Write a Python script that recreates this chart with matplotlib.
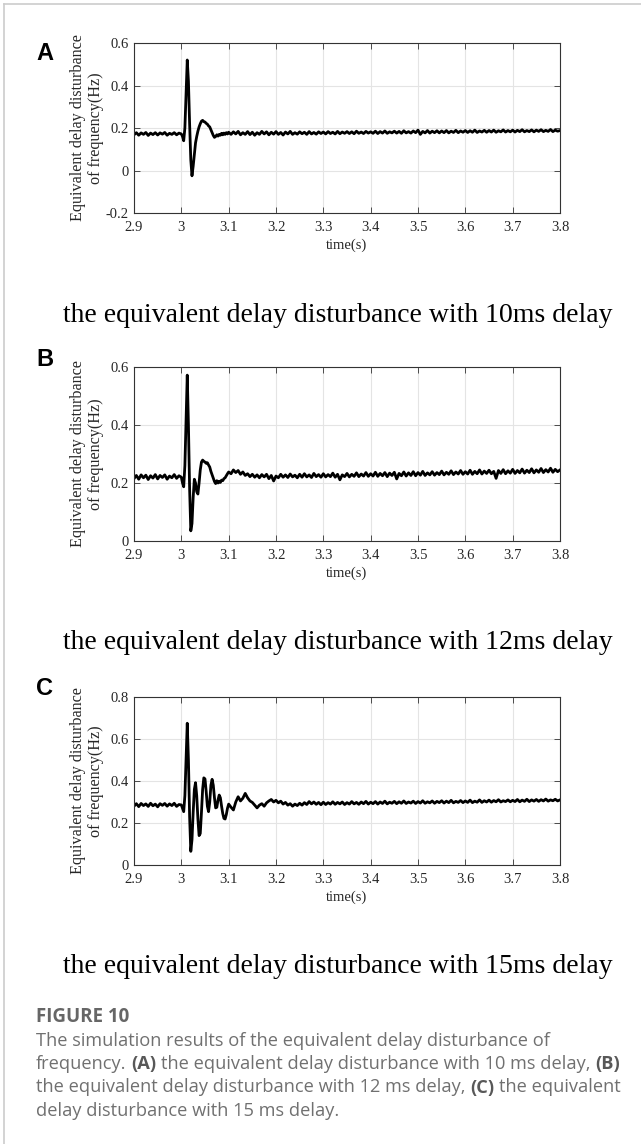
import numpy as np
import matplotlib
matplotlib.use("Agg")
import matplotlib.pyplot as plt
from matplotlib.lines import Line2D

SERIF = ["Liberation Serif", "DejaVu Serif"]
SANS = ["Liberation Sans", "DejaVu Sans"]
CAP = ["Open Sans", "DejaVu Sans"]
plt.rcParams["font.family"] = SERIF

# ---------------- data ----------------
# sampling times (s): pre-event, event (finer), post-event
t_pre = np.linspace(2.900, 2.995, 20)
t_evt = np.linspace(3.000, 3.0975, 40)
t_post = np.linspace(3.100, 3.800, 141)

# (A) 10 ms delay
a_pre = [0.168, 0.178, 0.166, 0.177, 0.170, 0.179, 0.165, 0.176, 0.169, 0.178,
         0.167, 0.177, 0.171, 0.179, 0.166, 0.175, 0.170, 0.178, 0.168, 0.176]
a_evt = [0.172, 0.160, 0.140, 0.200, 0.360, 0.520, 0.420, 0.220, 0.050, -0.025,
         0.020, 0.075, 0.130, 0.160, 0.185, 0.205, 0.220, 0.232, 0.236, 0.230,
         0.228, 0.222, 0.218, 0.210, 0.205, 0.192, 0.180, 0.165, 0.156, 0.160,
         0.168, 0.162, 0.170, 0.166, 0.175, 0.168, 0.176, 0.170, 0.178, 0.172]
a_post = [0.180, 0.170, 0.182, 0.172, 0.184, 0.168, 0.178, 0.170, 0.183, 0.169,
          0.180, 0.166, 0.178, 0.170, 0.184, 0.172, 0.182, 0.168, 0.180, 0.171,
          0.183, 0.170, 0.179, 0.167, 0.181, 0.172, 0.184, 0.170, 0.178, 0.171,
          0.182, 0.173, 0.180, 0.170, 0.183, 0.172, 0.179, 0.171, 0.182, 0.174,
          0.181, 0.172, 0.183, 0.174, 0.180, 0.172, 0.184, 0.173, 0.181, 0.175,
          0.183, 0.174, 0.182, 0.173, 0.185, 0.175, 0.181, 0.174, 0.184, 0.176,
          0.182, 0.175, 0.185, 0.174, 0.183, 0.176, 0.186, 0.175, 0.182, 0.177,
          0.185, 0.176, 0.184, 0.175, 0.187, 0.177, 0.183, 0.176, 0.186, 0.178,
          0.190, 0.170, 0.184, 0.177, 0.188, 0.176, 0.185, 0.178, 0.187, 0.177,
          0.186, 0.178, 0.188, 0.177, 0.185, 0.179, 0.189, 0.178, 0.186, 0.180,
          0.188, 0.179, 0.187, 0.180, 0.190, 0.179, 0.186, 0.181, 0.189, 0.180,
          0.188, 0.181, 0.190, 0.180, 0.187, 0.182, 0.191, 0.181, 0.188, 0.182,
          0.190, 0.181, 0.189, 0.183, 0.192, 0.182, 0.188, 0.183, 0.191, 0.182,
          0.190, 0.184, 0.192, 0.183, 0.189, 0.184, 0.193, 0.183, 0.190, 0.185,
          0.188]

# (B) 12 ms delay
b_pre = [0.215, 0.226, 0.213, 0.228, 0.218, 0.227, 0.212, 0.225, 0.217, 0.229,
         0.214, 0.226, 0.219, 0.228, 0.213, 0.224, 0.218, 0.229, 0.216, 0.225]
b_evt = [0.220, 0.200, 0.187, 0.260, 0.420, 0.572, 0.400, 0.180, 0.035, 0.060,
         0.150, 0.213, 0.200, 0.170, 0.162, 0.200, 0.245, 0.272, 0.279, 0.275,
         0.272, 0.268, 0.270, 0.262, 0.255, 0.240, 0.228, 0.215, 0.205, 0.198,
         0.208, 0.200, 0.206, 0.202, 0.210, 0.208, 0.215, 0.218, 0.225, 0.232]
b_post = [0.238, 0.232, 0.245, 0.236, 0.243, 0.230, 0.238, 0.226, 0.232, 0.222,
          0.230, 0.220, 0.228, 0.218, 0.229, 0.221, 0.230, 0.215, 0.226, 0.207,
          0.224, 0.218, 0.230, 0.220, 0.228, 0.219, 0.231, 0.221, 0.227, 0.218,
          0.230, 0.220, 0.232, 0.221, 0.228, 0.219, 0.233, 0.222, 0.229, 0.220,
          0.232, 0.221, 0.229, 0.222, 0.234, 0.220, 0.230, 0.211, 0.228, 0.222,
          0.233, 0.221, 0.230, 0.223, 0.235, 0.222, 0.231, 0.224, 0.236, 0.223,
          0.232, 0.224, 0.237, 0.223, 0.233, 0.225, 0.236, 0.222, 0.234, 0.226,
          0.237, 0.214, 0.233, 0.225, 0.238, 0.224, 0.235, 0.226, 0.239, 0.225,
          0.236, 0.227, 0.240, 0.226, 0.235, 0.228, 0.239, 0.227, 0.236, 0.229,
          0.241, 0.228, 0.237, 0.230, 0.242, 0.229, 0.238, 0.231, 0.243, 0.230,
          0.239, 0.231, 0.244, 0.230, 0.240, 0.232, 0.245, 0.231, 0.241, 0.233,
          0.244, 0.232, 0.240, 0.216, 0.243, 0.233, 0.246, 0.232, 0.242, 0.234,
          0.247, 0.233, 0.243, 0.235, 0.248, 0.234, 0.244, 0.236, 0.249, 0.235,
          0.245, 0.237, 0.250, 0.236, 0.246, 0.238, 0.251, 0.237, 0.247, 0.239,
          0.245]

# (C) 15 ms delay
c_pre = [0.280, 0.292, 0.278, 0.293, 0.283, 0.291, 0.279, 0.294, 0.282, 0.290,
         0.277, 0.292, 0.284, 0.293, 0.280, 0.291, 0.283, 0.294, 0.279, 0.288]
c_evt = [0.286, 0.270, 0.254, 0.330, 0.500, 0.675, 0.500, 0.230, 0.065, 0.120,
         0.250, 0.360, 0.392, 0.330, 0.220, 0.140, 0.150, 0.250, 0.360, 0.415,
         0.410, 0.350, 0.280, 0.254, 0.300, 0.380, 0.408, 0.380, 0.320, 0.272,
         0.275, 0.310, 0.333, 0.320, 0.280, 0.245, 0.222, 0.219, 0.240, 0.270]
c_post = [0.290, 0.275, 0.262, 0.300, 0.325, 0.305, 0.318, 0.341, 0.320, 0.305,
          0.298, 0.285, 0.272, 0.285, 0.292, 0.280, 0.296, 0.305, 0.312, 0.300,
          0.308, 0.296, 0.304, 0.290, 0.298, 0.285, 0.292, 0.280, 0.290, 0.283,
          0.294, 0.285, 0.297, 0.288, 0.302, 0.291, 0.300, 0.289, 0.298, 0.287,
          0.299, 0.288, 0.297, 0.290, 0.301, 0.289, 0.298, 0.291, 0.300, 0.288,
          0.297, 0.290, 0.302, 0.291, 0.298, 0.289, 0.300, 0.292, 0.303, 0.290,
          0.299, 0.292, 0.302, 0.290, 0.300, 0.293, 0.304, 0.291, 0.299, 0.294,
          0.303, 0.292, 0.301, 0.294, 0.305, 0.293, 0.300, 0.295, 0.304, 0.293,
          0.302, 0.295, 0.306, 0.294, 0.301, 0.296, 0.305, 0.294, 0.303, 0.297,
          0.306, 0.295, 0.304, 0.297, 0.308, 0.296, 0.303, 0.298, 0.307, 0.297,
          0.305, 0.298, 0.309, 0.297, 0.304, 0.299, 0.310, 0.298, 0.306, 0.300,
          0.309, 0.299, 0.307, 0.301, 0.311, 0.300, 0.306, 0.302, 0.310, 0.301,
          0.308, 0.302, 0.312, 0.301, 0.309, 0.303, 0.313, 0.302, 0.310, 0.304,
          0.312, 0.303, 0.311, 0.305, 0.314, 0.304, 0.310, 0.306, 0.313, 0.305,
          0.310]

x_ticks = [2.9, 3.0, 3.1, 3.2, 3.3, 3.4, 3.5, 3.6, 3.7, 3.8]
x_ticklabels = ["2.9", "3", "3.1", "3.2", "3.3", "3.4", "3.5", "3.6", "3.7", "3.8"]
yA_ticks, yA_labels = [-0.2, 0, 0.2, 0.4, 0.6], ["-0.2", "0", "0.2", "0.4", "0.6"]
yB_ticks, yB_labels = [0, 0.2, 0.4, 0.6], ["0", "0.2", "0.4", "0.6"]
yC_ticks, yC_labels = [0, 0.2, 0.4, 0.6, 0.8], ["0", "0.2", "0.4", "0.6", "0.8"]

panel_letters = ["A", "B", "C"]
subtitles = ["the equivalent delay disturbance with 10ms delay",
             "the equivalent delay disturbance with 12ms delay",
             "the equivalent delay disturbance with 15ms delay"]
ylabel_text = "Equivalent delay disturbance\nof frequency(Hz)"
xlabel_text = "time(s)"

# ---------------- figure ----------------
W, H = 641, 1144
fig = plt.figure(figsize=(W / 100, H / 100), dpi=100)
fig.patch.set_facecolor("white")


def px_box(left, top, right, bottom):
    return [left / W, 1 - bottom / H, (right - left) / W, (bottom - top) / H]


panels = [
    dict(box=(134, 43, 560, 213), y=(a_pre, a_evt, a_post), ylim=(-0.2, 0.6),
         yt=yA_ticks, yl=yA_labels, letter_base=60, sub_base=322),
    dict(box=(134, 367, 560, 541), y=(b_pre, b_evt, b_post), ylim=(0, 0.6),
         yt=yB_ticks, yl=yB_labels, letter_base=366, sub_base=649),
    dict(box=(134, 697, 560, 865), y=(c_pre, c_evt, c_post), ylim=(0, 0.8),
         yt=yC_ticks, yl=yC_labels, letter_base=695, sub_base=973),
]

t_all = np.concatenate([t_pre, t_evt, t_post])
TICK_COL = "#262626"

for i, p in enumerate(panels):
    l, t, r, b = p["box"]
    ax = fig.add_axes(px_box(l, t, r, b))
    yv = np.concatenate([np.asarray(v, dtype=float) for v in p["y"]])
    ax.plot(t_all, yv, color="black", lw=2.0)
    ax.set_xlim(2.9, 3.8)
    ax.set_ylim(*p["ylim"])
    ax.grid(True, color="#e4e4e4", lw=0.8)
    ax.set_axisbelow(True)
    ax.tick_params(direction="in", top=True, right=True, length=4, width=0.6,
                   color="#333333", labelsize=10.5, labelcolor=TICK_COL)
    ax.tick_params(axis="x", pad=6)
    ax.tick_params(axis="y", pad=4)
    ax.set_xticks(x_ticks)
    ax.set_xticklabels(x_ticklabels)
    ax.set_yticks(p["yt"])
    ax.set_yticklabels(p["yl"])
    for s in ax.spines.values():
        s.set_color("#333333")
        s.set_linewidth(0.8)
    ax.set_xlabel(xlabel_text, fontsize=10.5, color=TICK_COL, labelpad=3)
    # y label (two lines, centred on axes)
    fig.text(87 / W, 1 - ((t + b) / 2) / H, ylabel_text, rotation=90,
             ha="center", va="center", multialignment="center",
             fontsize=11.6, color=TICK_COL, linespacing=1.22)
    # panel letter
    fig.text(36 / W, 1 - p["letter_base"] / H, panel_letters[i],
             family=SANS, fontsize=17, weight="bold", color="black",
             ha="left", va="baseline")
    # subtitle
    fig.text(338 / W, 1 - p["sub_base"] / H, subtitles[i],
             fontsize=20.0, color="black", ha="center", va="baseline")

# frame lines (page border)
fig.add_artist(Line2D([4 / W, 4 / W], [0, 1 - 4 / H], color="#cccccc", lw=1.2,
                      transform=fig.transFigure))
fig.add_artist(Line2D([4 / W, 1], [1 - 4 / H, 1 - 4 / H], color="#cccccc",
                      lw=1.2, transform=fig.transFigure))

# caption
renderer = fig.canvas.get_renderer()
CAP_SIZE = 13.15
CAP_COL = "#707070"
BOLD_COL = "#585858"


def text_width(s, weight):
    tt = fig.text(0, 0, s, family=CAP, fontsize=CAP_SIZE, weight=weight)
    w = tt.get_window_extent(renderer).width
    tt.remove()
    return w


space_w = text_width("a a", "normal") - text_width("aa", "normal")


def draw_line(segments, x0, base):
    x = x0
    for s, bold in segments:
        lead = len(s) - len(s.lstrip(" "))
        trail = len(s) - len(s.rstrip(" "))
        core = s.strip(" ")
        x += lead * space_w
        if core:
            weight = "bold" if bold else "normal"
            tt = fig.text(x / W, 1 - base / H, core, family=CAP,
                          fontsize=CAP_SIZE, weight=weight,
                          color=BOLD_COL if bold else CAP_COL,
                          ha="left", va="baseline")
            x += tt.get_window_extent(renderer).width
        x += trail * space_w


fig.text(36 / W, 1 - 1022 / H, "FIGURE 10", family=CAP, fontsize=13.5,
         weight="bold", color="#666666", ha="left", va="baseline")
caption_lines = [
    [("The simulation results of the equivalent delay disturbance of", False)],
    [("frequency. ", False), ("(A)", True),
     (" the equivalent delay disturbance with 10 ms delay, ", False), ("(B)", True)],
    [("the equivalent delay disturbance with 12 ms delay, ", False), ("(C)", True),
     (" the equivalent", False)],
    [("delay disturbance with 15 ms delay.", False)],
]
for k, segs in enumerate(caption_lines):
    draw_line(segs, 36, 1045.5 + 23.5 * k)

fig.savefig("out.png", dpi=100, facecolor="white")
